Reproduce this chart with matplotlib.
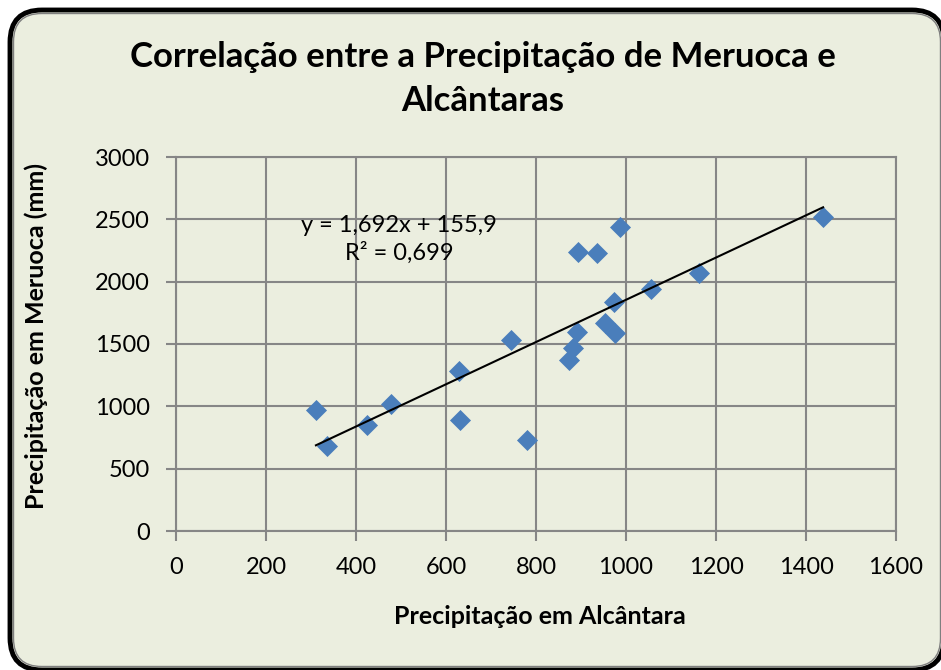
import matplotlib.pyplot as plt
import numpy as np
from matplotlib.patches import FancyBboxPatch

# Dados: precipitação anual (mm)
alcantara = [311, 336, 424, 478, 629, 631, 744, 780, 873, 882, 891, 893,
             936, 987, 953, 976, 973, 1056, 1162, 1438]
meruoca = [970, 682, 850, 1018, 1283, 890, 1532, 730, 1371, 1467, 1596, 2237,
           2229, 2438, 1668, 1588, 1836, 1941, 2069, 2518]

titulo = 'Correlação entre a Precipitação de Meruoca e\nAlcântaras'
rotulo_x = 'Precipitação em Alcântara'
rotulo_y = 'Precipitação em Meruoca (mm)'
equacao = 'y = 1,692x + 155,9\nR² = 0,699'

plt.rcParams['font.family'] = ['Lato', 'DejaVu Sans']
bg = '#ebeedf'

fig = plt.figure(figsize=(9.41, 6.7), dpi=100)
fig.patch.set_facecolor('white')

# moldura arredondada (linha dupla, um pouco cortada à direita e embaixo)
W, H = 941, 670
x0, y0, x1, y1 = 10, 0, 944, 660
moldura = FancyBboxPatch((x0 / W, y0 / H), (x1 - x0) / W, (y1 - y0) / H,
                         boxstyle='round,pad=0,rounding_size=0.034',
                         transform=fig.transFigure, facecolor=bg, edgecolor='black', linewidth=3.5,
                         mutation_aspect=W / H, zorder=-10)
fig.patches.append(moldura)
d = 3.5
interna = FancyBboxPatch(((x0 + d) / W, (y0 + d) / H), (x1 - x0 - 2 * d) / W, (y1 - y0 - 2 * d) / H,
                         boxstyle='round,pad=0,rounding_size=0.030',
                         transform=fig.transFigure, facecolor='none', edgecolor='#7f7f7f', linewidth=1,
                         mutation_aspect=W / H, zorder=-9)
fig.patches.append(interna)

ax = fig.add_axes([176 / W, 1 - 531 / H, 720 / W, 374 / H])
ax.set_facecolor(bg)

x = np.array(alcantara)
y = np.array(meruoca)
ax.scatter(x, y, marker='D', s=115, color='#4a7ebb', zorder=3, linewidths=0)

# linha de tendência
coef = np.polyfit(x, y, 1)
xl = np.array([x.min(), x.max()])
ax.plot(xl, np.polyval(coef, xl), color='black', linewidth=1.5, zorder=4)

ax.set_xlim(0, 1600)
ax.set_ylim(0, 3000)
ax.set_xticks(np.arange(0, 1601, 200))
ax.set_yticks(np.arange(0, 3001, 500))
ax.grid(True, color='#868686', linewidth=1.5)
ax.set_axisbelow(True)
for s in ax.spines.values():
    s.set_color('#868686')
    s.set_linewidth(1.5)
ax.tick_params(direction='out', length=7, width=1.5, color='#868686', labelsize=17, pad=12)

ax.text(0.31, 0.78, equacao, transform=ax.transAxes, fontsize=17, ha='center', va='center',
        linespacing=1.3)

fig.text(483 / W, 1 - 79 / H, titulo, ha='center', va='center', fontsize=25,
         fontweight='bold', linespacing=1.45)
fig.text(540 / W, 1 - 617 / H, rotulo_x, ha='center', va='center', fontsize=18,
         fontweight='bold')
fig.text(36 / W, 1 - 336 / H, rotulo_y, ha='center', va='center', fontsize=18,
         fontweight='bold', rotation=90)

fig.savefig('out.png', dpi=100, facecolor='white')
